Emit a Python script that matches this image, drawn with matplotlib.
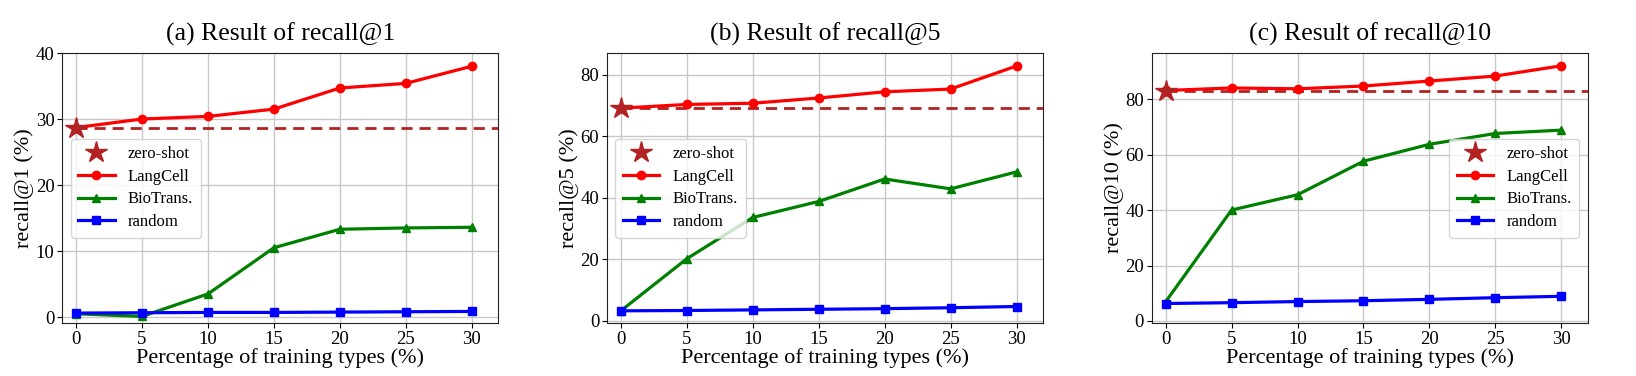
import matplotlib
matplotlib.use("Agg")
import matplotlib.pyplot as plt

plt.rcParams['font.family'] = ['Liberation Serif', 'DejaVu Serif']

x = [0, 5, 10, 15, 20, 25, 30]
xticks = [0, 5, 10, 15, 20, 25, 30]

titles = ["(a) Result of recall@1", "(b) Result of recall@5", "(c) Result of recall@10"]
ylabels = ["recall@1 (%)", "recall@5 (%)", "recall@10 (%)"]

langcell_r1 = [28.7, 30.0, 30.4, 31.5, 34.7, 35.4, 38.0]
biotrans_r1 = [0.5, 0.1, 3.5, 10.5, 13.3, 13.5, 13.6]
random_r1 = [0.6, 0.65, 0.7, 0.7, 0.75, 0.8, 0.85]
zeroshot_r1 = 28.6

langcell_r5 = [69.1, 70.3, 70.7, 72.4, 74.4, 75.3, 82.8]
biotrans_r5 = [3.3, 20.2, 33.6, 38.8, 46.1, 42.9, 48.4]
random_r5 = [3.3, 3.4, 3.6, 3.8, 4.0, 4.3, 4.7]
zeroshot_r5 = 69.1

langcell_r10 = [83.1, 84.0, 83.7, 84.7, 86.5, 88.3, 92.0]
biotrans_r10 = [6.9, 40.0, 45.5, 57.6, 63.7, 67.6, 68.8]
random_r10 = [6.3, 6.6, 7.0, 7.3, 7.8, 8.4, 8.9]
zeroshot_r10 = 83.0

yticks = [[0, 10, 20, 30, 40], [0, 20, 40, 60, 80], [0, 20, 40, 60, 80]]
ylims = [(-0.9, 40.0), (-0.65, 87.0), (-0.72, 96.6)]
legend_locs = ['center left', 'center left', 'center right']

data = [
    (langcell_r1, biotrans_r1, random_r1, zeroshot_r1),
    (langcell_r5, biotrans_r5, random_r5, zeroshot_r5),
    (langcell_r10, biotrans_r10, random_r10, zeroshot_r10),
]

fig = plt.figure(figsize=(16.36, 3.76), dpi=100)
lefts = [0.038, 0.371, 0.704]
width = 0.2665
bottom = 0.141
height = 0.718
xlim = (-1.05, 32.0)

for i in range(3):
    ax = fig.add_axes([lefts[i], bottom, width, height])
    lc, bt, rd, zs = data[i]
    ax.grid(True, color='#c8c8c8', linewidth=1.0, zorder=0)
    ax.set_axisbelow(True)
    ax.hlines(zs, 0, xlim[1], colors='#b22222', linestyles=(0, (4, 2.5)), linewidth=2.0, zorder=2)
    ax.plot([0], [zs], linestyle='none', marker='*', color='#b22222', markersize=16, label='zero-shot', zorder=5)
    ax.plot(x, lc, color='red', marker='o', markersize=6, linewidth=2.3, label='LangCell', zorder=3)
    ax.plot(x, bt, color='green', marker='^', markersize=6, linewidth=2.3, label='BioTrans.', zorder=3)
    ax.plot(x, rd, color='blue', marker='s', markersize=6, linewidth=2.3, label='random', zorder=3)
    ax.set_xlim(*xlim)
    ax.set_ylim(*ylims[i])
    ax.set_xticks(xticks)
    ax.set_yticks(yticks[i])
    ax.tick_params(labelsize=13.5, pad=2)
    ax.set_title(titles[i], fontsize=18.5, pad=9)
    ax.set_xlabel("Percentage of training types (%)", fontsize=16, labelpad=0)
    ax.set_ylabel(ylabels[i], fontsize=16, labelpad=1)
    for s in ax.spines.values():
        s.set_color('#222222')
    ax.legend(loc=legend_locs[i], fontsize=12, handlelength=2.2, borderpad=0.45,
              labelspacing=0.4, handletextpad=0.8, borderaxespad=0.5)

fig.savefig("out.png", dpi=100)
